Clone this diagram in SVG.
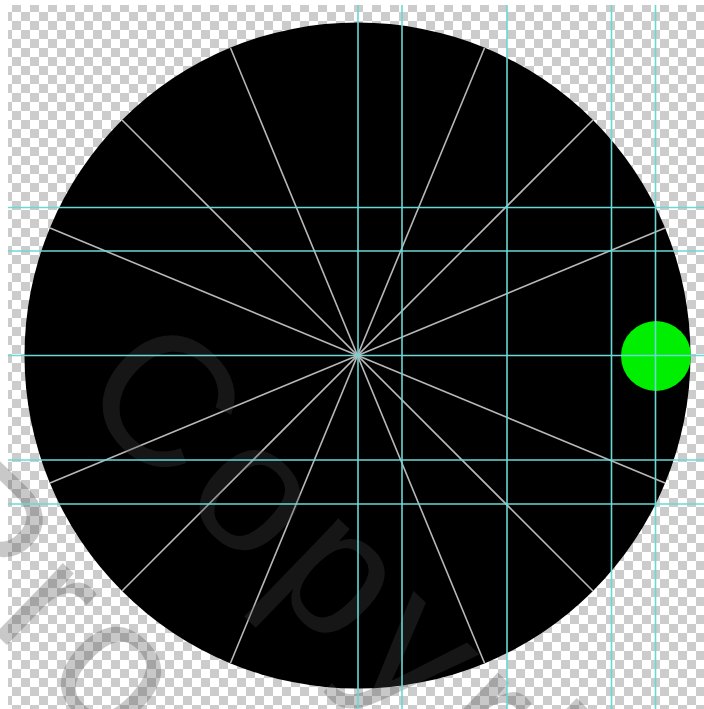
<svg xmlns="http://www.w3.org/2000/svg" width="704" height="709" viewBox="0 0 704 709">
  <defs>
    <pattern id="checker" x="3" y="3" width="18" height="18" patternUnits="userSpaceOnUse">
      <rect x="0" y="0" width="18" height="18" fill="#ffffff"/>
      <rect x="9" y="0" width="9" height="9" fill="#cccccc"/>
      <rect x="0" y="9" width="9" height="9" fill="#cccccc"/>
    </pattern>
    <style>
      .spoke { stroke: #b8b8b8; stroke-width: 1.6; fill: none; }
      .guide { stroke: #6ad8d4; stroke-width: 1.6; fill: none; }
      .wm { font-family: "Liberation Sans", Arial, sans-serif; font-size: 185px; letter-spacing: 13px; fill: #484848; fill-opacity: 0.3; }
    </style>
  </defs>

  <rect id="page" x="0" y="0" width="704" height="709" fill="#ffffff"/>
  <rect id="transparency" x="8" y="5" width="696" height="704" fill="url(#checker)"/>

  <g id="disc">
    <circle cx="357.5" cy="355.5" r="333" fill="#000000"/>
  </g>

  <g id="spokes">
    <line class="spoke" x1="230.5" y1="48" x2="484.5" y2="663"/>
    <line class="spoke" x1="484.5" y1="48" x2="230.5" y2="663"/>
    <line class="spoke" x1="122" y1="120" x2="593" y2="591"/>
    <line class="spoke" x1="593" y1="120" x2="122" y2="591"/>
    <line class="spoke" x1="50" y1="228" x2="665" y2="483"/>
    <line class="spoke" x1="665" y1="228" x2="50" y2="483"/>
  </g>

  <g id="marker-dot">
    <circle cx="656" cy="356" r="35" fill="#00ee00"/>
  </g>

  <g id="watermark">
    <text class="wm" transform="translate(73 398) rotate(44)">Copyright</text>
    <text class="wm" transform="translate(-112 530) rotate(44)">Pro</text>
  </g>

  <g id="guides">
    <line class="guide" x1="358" y1="5" x2="358" y2="709"/>
    <line class="guide" x1="402" y1="5" x2="402" y2="709"/>
    <line class="guide" x1="507" y1="5" x2="507" y2="709"/>
    <line class="guide" x1="611.5" y1="5" x2="611.5" y2="709"/>
    <line class="guide" x1="655.5" y1="5" x2="655.5" y2="709"/>
    <line class="guide" x1="8" y1="207.5" x2="704" y2="207.5"/>
    <line class="guide" x1="8" y1="251" x2="704" y2="251"/>
    <line class="guide" x1="8" y1="355.5" x2="704" y2="355.5"/>
    <line class="guide" x1="8" y1="460" x2="704" y2="460"/>
    <line class="guide" x1="8" y1="504" x2="704" y2="504"/>
  </g>
</svg>
